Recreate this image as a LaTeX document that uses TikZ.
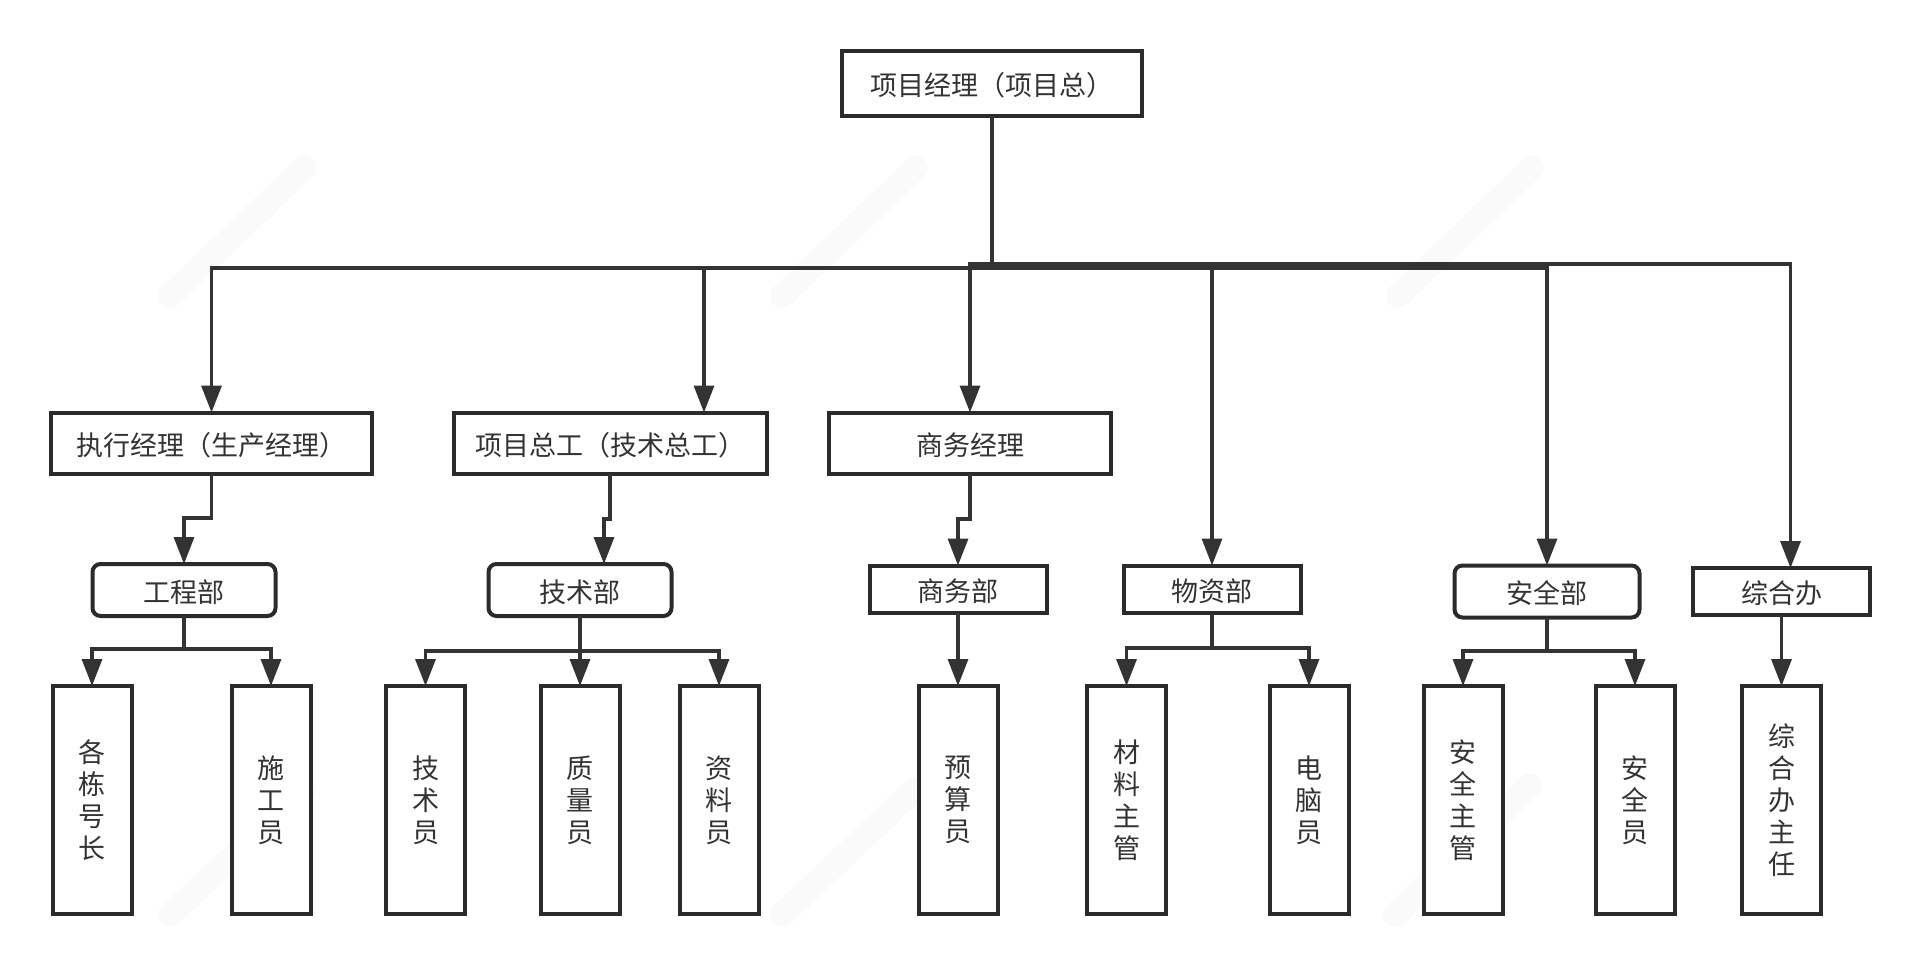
\documentclass[tikz,border=0pt]{standalone}
\usepackage{fontspec}
\setmainfont{Noto Sans CJK SC}
\usetikzlibrary{arrows.meta}
\tikzset{
  x=1pt,y=-1pt,
  boxbase/.style={draw=boxcol,fill=white,line width=4pt,inner sep=0pt,outer sep=0pt,align=center,text=textcol,font=\fontsize{27}{32}\selectfont},
  squarebox/.style={boxbase,text height=30pt,text depth=5.4pt},
  rbox/.style={boxbase,rounded corners=8pt,text height=30pt,text depth=5.4pt},
  tallbox/.style={boxbase,minimum width=79pt,minimum height=228pt,execute at begin node={\rule{0pt}{27pt}}},
  wire/.style={draw=linecol,line width=3.4pt,line join=miter},
  arr/.style={wire,-{Stealth[length=27pt,width=20pt,inset=0pt]}},
  smudge/.style={draw=gray!5,line width=24pt,line cap=round,opacity=.75}
}
\definecolor{boxcol}{HTML}{2B2B2B}
\definecolor{linecol}{HTML}{333333}
\definecolor{textcol}{HTML}{333333}
\begin{document}
\begin{tikzpicture}
\useasboundingbox (0,0) rectangle (1920,966);
\fill[white] (0,0) rectangle (1920,966);
\begin{scope}
\clip (0,0) rectangle (1920,966);
\draw[smudge] (170,296) -- (304,168);
\draw[smudge] (782,296) -- (916,168);
\draw[smudge] (1398,296) -- (1532,168);
\draw[smudge] (170,915) -- (304,790);
\draw[smudge] (782,915) -- (914,790);
\draw[smudge] (1395,915) -- (1530,785);
\end{scope}

% top
\node[squarebox,minimum width=300pt,minimum height=65pt] (root) at (992,83.5) {项目经理（项目总）};
% level two
\node[squarebox,minimum width=321pt,minimum height=61pt] (exec) at (211.5,443) {执行经理（生产经理）};
\node[squarebox,minimum width=313pt,minimum height=61pt] (tech) at (610,443) {项目总工（技术总工）};
\node[squarebox,minimum width=282pt,minimum height=61pt] (comm) at (970,443) {商务经理};
% departments
\node[rbox,minimum width=183pt,minimum height=52pt] (deng) at (184,590) {工程部};
\node[rbox,minimum width=183pt,minimum height=52pt] (dtech) at (580,590) {技术部};
\node[squarebox,minimum width=177pt,minimum height=47pt] (dcomm) at (958,589) {商务部};
\node[squarebox,minimum width=177pt,minimum height=47pt] (dmat) at (1212,589) {物资部};
\node[rbox,minimum width=185pt,minimum height=52pt] (dsafe) at (1547,591.5) {安全部};
\node[squarebox,minimum width=177pt,minimum height=47pt] (doff) at (1781.5,591.5) {综合办};
% bottom row
\node[tallbox] (b1) at (92,800) {各\\栋\\号\\长};
\node[tallbox] (b2) at (271,800) {施\\工\\员};
\node[tallbox] (b3) at (425.5,800) {技\\术\\员};
\node[tallbox] (b4) at (580,800) {质\\量\\员};
\node[tallbox] (b5) at (719,800) {资\\料\\员};
\node[tallbox] (b6) at (958,800) {预\\算\\员};
\node[tallbox] (b7) at (1126.5,800) {材\\料\\主\\管};
\node[tallbox] (b8) at (1309,800) {电\\脑\\员};
\node[tallbox] (b9) at (1463,800) {安\\全\\主\\管};
\node[tallbox] (b10) at (1635,800) {安\\全\\员};
\node[tallbox] (b11) at (1781.5,800) {综\\合\\办\\主\\任};

% junctions
\coordinate (hub) at (992,268);
\coordinate (hubtop) at (992,264);
\coordinate (emid) at (184,518);
\coordinate (tmid) at (604,519);
\coordinate (cmid) at (958,519);
\coordinate (ebus) at (184,649);
\coordinate (tbus) at (580,651);
\coordinate (mbus) at (1212,648);
\coordinate (sbus) at (1547,651);

% root connectors
\draw[wire] (root.south) -- (hub);
\draw[arr] (hub) -| (exec.north);
\draw[arr] (hub) -| ([xshift=94pt]tech.north);
\draw[arr] (hubtop) -| (comm.north);
\draw[arr] (hub) -| (dmat.north);
\draw[arr] (hub) -| (dsafe.north);
\draw[arr] (hubtop) -| ([xshift=9pt]doff.north);

% level two to departments
\draw[arr] (exec.south) |- (emid) -- (deng.north);
\draw[arr] (tech.south) |- (tmid) -- (tmid |- dtech.north);
\draw[arr] (comm.south) |- (cmid) -- (dcomm.north);

% departments to staff
\draw[wire] (deng.south) -- (ebus);
\draw[arr] (ebus) -| (b1.north);
\draw[arr] (ebus) -| (b2.north);
\draw[wire] (dtech.south) -- (tbus);
\draw[arr] (tbus) -| (b3.north);
\draw[arr] (dtech.south) -- (b4.north);
\draw[arr] (tbus) -| (b5.north);
\draw[arr] (dcomm.south) -- (b6.north);
\draw[wire] (dmat.south) -- (mbus);
\draw[arr] (mbus) -| (b7.north);
\draw[arr] (mbus) -| (b8.north);
\draw[wire] (dsafe.south) -- (sbus);
\draw[arr] (sbus) -| (b9.north);
\draw[arr] (sbus) -| (b10.north);
\draw[arr] (doff.south) -- (b11.north);
\end{tikzpicture}
\end{document}
